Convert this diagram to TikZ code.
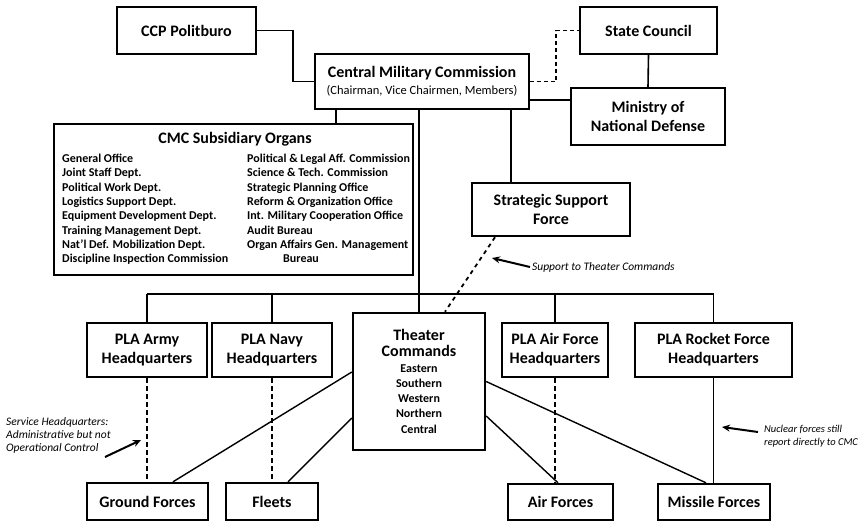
\documentclass[tikz,border=0pt]{standalone}
\usepackage{fontspec}
\setmainfont{Carlito}
\usetikzlibrary{arrows.meta}

\begin{document}
\begin{tikzpicture}[x=1pt, y=-1pt,
    box/.style={draw, line width=2.4pt, align=center, inner sep=0pt, font=\fontsize{16}{19}\selectfont\bfseries},
    link/.style={line width=1.6pt},
    tlink/.style={line width=1.4pt},
    dashlink/.style={line width=1.8pt, dash pattern=on 5pt off 3pt},
    note/.style={font=\fontsize{11.5}{13}\selectfont\itshape, align=left, inner sep=0pt, anchor=west},
    notearrow/.style={line width=2pt, -{Stealth[length=8pt, width=7pt]}},
    organ/.style={font=\fontsize{12}{14.3}\selectfont\bfseries, align=left, inner sep=0pt, anchor=north west}]

    \useasboundingbox (0,0) rectangle (864,523);

    % Top level
    \node[box, minimum width=139pt, minimum height=47pt] (polit) at (186.5,30.5) {CCP Politburo};
    \node[box, minimum width=214pt, minimum height=55pt] (cmc) at (422,81.5)
        {Central Military Commission\\[-2pt]{\fontsize{12.5}{14}\selectfont\mdseries (Chairman, Vice Chairmen, Members)}};
    \node[box, minimum width=137pt, minimum height=47pt] (state) at (648.5,30.5) {State Council};
    \node[box, minimum width=154pt, minimum height=57pt] (mnd) at (648,116.5) {Ministry of\\National Defense};

    \draw[link] (polit.east) -- ++(36,0) |- (cmc.west);
    \draw[dashlink, dash pattern=on 4pt off 3pt] (cmc.east) -- ++(26,0) |- (state.west);
    \draw[link] (state.south) -- (mnd.north);
    \draw[link] ([yshift=-18.5pt]cmc.east) -- ([yshift=-18.5pt]cmc.east -| mnd.west);

    % CMC subsidiary organs
    \node[box, minimum width=359pt, minimum height=151pt] (organs) at (233.5,199.5) {};
    \node[font=\fontsize{16}{19}\selectfont\bfseries, inner sep=0pt] (orgtitle) at (235,139) {CMC Subsidiary Organs};
    \node[organ] (orgleft) at (62,154) {General Office\\Joint Staff Dept.\\Political Work Dept.\\Logistics Support Dept.\\Equipment Development Dept.\\Training Management Dept.\\Nat'l Def. Mobilization Dept.\\Discipline Inspection Commission};
    \node[organ] (orgright) at (247,154) {Political \& Legal Aff. Commission\\Science \& Tech. Commission\\Strategic Planning Office\\Reform \& Organization Office\\Int. Military Cooperation Office\\Audit Bureau\\Organ Affairs Gen. Management\\\hspace*{36pt}Bureau};
    \draw[link] ([xshift=-86pt]cmc.south) -- ([xshift=-86pt]cmc.south |- organs.north);

    % Strategic support force
    \node[box, minimum width=158pt, minimum height=53pt] (ssf) at (551,209.5) {Strategic Support\\Force};
    \draw[link] ([xshift=89pt]cmc.south) -- ([xshift=89pt]cmc.south |- ssf.north);

    % Services and theater commands
    \node[box, minimum width=120pt, minimum height=54pt] (army) at (147,350) {PLA Army\\Headquarters};
    \node[box, minimum width=120pt, minimum height=54pt] (navy) at (272,350) {PLA Navy\\Headquarters};
    \node[box, minimum width=132pt, minimum height=137pt, font=\fontsize{12}{15.2}\selectfont\bfseries] (theater) at (419,381.5)
        {\fontsize{16}{19}\selectfont Theater\\\fontsize{16}{19}\selectfont Commands\\[1pt]Eastern\\Southern\\Western\\Northern\\Central};
    \node[box, minimum width=106pt, minimum height=54pt] (airhq) at (555,350) {PLA Air Force\\Headquarters};
    \node[box, minimum width=157pt, minimum height=54pt] (rocket) at (713.5,350) {PLA Rocket Force\\Headquarters};

    \coordinate (bar) at (420,294);
    \draw[link] (army.north |- bar) -- (rocket.north |- bar);
    \foreach \hq in {army, navy, airhq, rocket}
        \draw[link] (\hq.north) -- (\hq.north |- bar);
    \draw[link] (cmc.south -| theater.north) -- (theater.north);
    \draw[dashlink, dash pattern=on 4pt off 4pt] ([xshift=-56pt]ssf.south) -- ([xshift=26pt]theater.north);

    % Forces
    \node[box, minimum width=121pt, minimum height=37pt] (ground) at (147.5,501.5) {Ground Forces};
    \node[box, minimum width=92pt, minimum height=37pt] (fleets) at (272,501.5) {Fleets};
    \node[box, minimum width=105pt, minimum height=36pt] (airf) at (560.5,502) {Air Forces};
    \node[box, minimum width=112pt, minimum height=36pt] (missile) at (714,502) {Missile Forces};

    \draw[dashlink] (army.south) -- (army.south |- ground.north);
    \draw[dashlink] (navy.south) -- (navy.south |- fleets.north);
    \draw[dashlink] (airhq.south) -- (airhq.south |- airf.north);
    \draw[link] (rocket.south) -- (rocket.south |- missile.north);

    \draw[tlink] ([yshift=9.5pt]theater.west) -- ([xshift=25.5pt]ground.north);
    \draw[tlink] ([yshift=-36.5pt]theater.west) -- ([xshift=16pt]fleets.north);
    \draw[tlink] ([yshift=-34.5pt]theater.east) -- ([xshift=-2.5pt]airf.north);
    \draw[tlink] (theater.east) -- ([xshift=-8pt]missile.north);

    % Notes
    \node[note] (supnote) at (532,267) {Support to Theater Commands};
    \coordinate (suptip) at (492,258);
    \draw[notearrow] ([xshift=-2pt]supnote.west) -- (suptip);

    \node[note] (svcnote) at (6,435) {Service Headquarters:\\Administrative but not\\Operational Control};
    \coordinate (svctail) at (105,457);
    \coordinate (svctip) at (141,440);
    \draw[notearrow] (svctail) -- (svctip);

    \node[note, font=\fontsize{10.5}{13}\selectfont\itshape] (nucnote) at (764,436) {Nuclear forces still\\report directly to CMC};
    \coordinate (nuctip) at (722,427);
    \draw[notearrow] ([shift={(-6pt,4pt)}]nucnote.west) -- (nuctip);

\end{tikzpicture}
\end{document}
